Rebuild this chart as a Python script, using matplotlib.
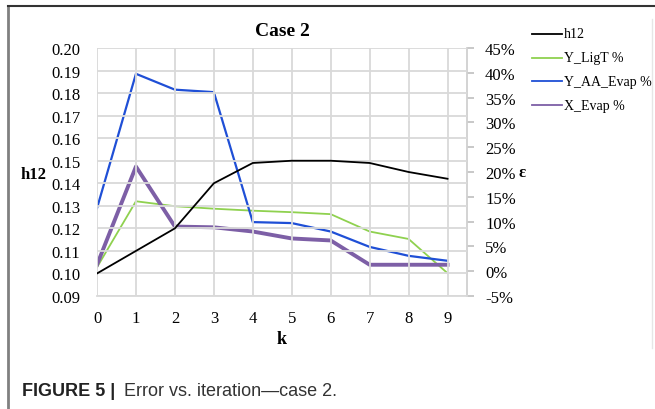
import matplotlib.pyplot as plt
from matplotlib.lines import Line2D

# data
k = [0, 1, 2, 3, 4, 5, 6, 7, 8, 9]
h12 = [0.100, 0.110, 0.120, 0.140, 0.149, 0.150, 0.150, 0.149, 0.145, 0.142]
y_ligt = [0.8, 14.1, 13.1, 12.6, 12.2, 11.9, 11.5, 8.0, 6.5, -0.4]
y_aa_evap = [12.7, 39.8, 36.6, 36.1, 9.9, 9.7, 8.0, 4.9, 3.1, 2.1]
x_evap = [1.3, 21.1, 9.0, 8.85, 8.0, 6.6, 6.2, 1.3, 1.3, 1.3]

left_ticks = [0.09, 0.10, 0.11, 0.12, 0.13, 0.14, 0.15, 0.16, 0.17, 0.18, 0.19, 0.20]
right_ticks = [-5, 0, 5, 10, 15, 20, 25, 30, 35, 40, 45]

names = ['h12', 'Y_LigT %', 'Y_AA_Evap %', 'X_Evap %']
colors = ['#000000', '#8fd14f', '#1f4fd6', '#7d5fa6']

W, H = 655, 410
serif = 'Liberation Serif'
grid_c = '#d9d9d9'

fig = plt.figure(figsize=(W / 100, H / 100), dpi=100)

ax = fig.add_axes([97 / W, 1 - 297 / H, (467 - 97) / W, (297 - 49) / H])
ax.set_xlim(0, 9.5)
ax.set_ylim(0.09, 0.20)
ax.set_yticks(left_ticks)
ax.set_yticklabels(['%.2f' % v for v in left_ticks], family=serif, fontsize=12)
ax.set_xticks(k)
ax.set_xticklabels([str(v) for v in k], family=serif, fontsize=12)
ax.tick_params(axis='y', length=0, pad=12)
ax.tick_params(axis='x', length=0, pad=10)
ax.grid(True, color=grid_c, linewidth=1.3)
ax.set_axisbelow(True)
for s in ax.spines.values():
    s.set_visible(False)
ax.spines['bottom'].set_visible(True)
ax.spines['bottom'].set_color(grid_c)
ax.spines['bottom'].set_linewidth(1.3)

ax2 = ax.twinx()
ax2.set_ylim(-5, 45)
ax2.set_yticks(right_ticks)
ax2.set_yticklabels(['%d%%' % v for v in right_ticks], family=serif, fontsize=12)
ax2.tick_params(axis='y', length=5, color='#bfbfbf', width=1.2, pad=8)
for s in ax2.spines.values():
    s.set_visible(False)
ax2.spines['right'].set_visible(True)
ax2.spines['right'].set_color('#d0d0d0')
ax2.spines['right'].set_linewidth(1.3)

ax.plot(k, h12, color=colors[0], linewidth=1.3, zorder=5)
ax2.plot(k, y_ligt, color=colors[1], linewidth=1.3)
ax2.plot(k, y_aa_evap, color=colors[2], linewidth=1.6)
ax2.plot(k, x_evap, color=colors[3], linewidth=2.8)
ax.set_zorder(ax2.get_zorder() + 1)
ax.patch.set_visible(False)

# titles and axis labels
fig.text(282 / W, 1 - 31 / H, 'Case 2', family=serif, fontsize=14,
         fontweight='bold', ha='center', va='center')
fig.text(34 / W, 1 - 175 / H, 'h12', family=serif, fontsize=12,
         fontweight='bold', ha='center', va='center')
fig.text(522 / W, 1 - 173 / H, 'ε', family=serif, fontsize=12,
         fontweight='bold', ha='center', va='center')
fig.text(282 / W, 1 - 340 / H, 'k', family=serif, fontsize=13,
         fontweight='bold', ha='center', va='center')

# legend
for i, (name, c) in enumerate(zip(names, colors)):
    yy = 1 - (35 + i * 23.7) / H
    fig.add_artist(Line2D([532 / W, 562 / W], [yy, yy], color=c, linewidth=1.3))
    fig.text(564 / W, yy, name, family=serif, fontsize=10, ha='left', va='center')

# frame lines
fig.add_artist(Line2D([7.5 / W, 7.5 / W], [0, 1 - 7 / H], color='#808080', linewidth=2))
fig.add_artist(Line2D([7.5 / W, 1], [1 - 7 / H, 1 - 7 / H], color='#333333', linewidth=1.5))
fig.add_artist(Line2D([652 / W, 652 / W], [1 - 20 / H, 1 - 349 / H], color='#e6e6e6', linewidth=1))

# caption
fig.text(22 / W, 1 - 392 / H, 'FIGURE 5 | ', family='Liberation Sans', fontsize=13,
         fontweight='bold', ha='left', va='center', color='#222222')
fig.text(124 / W, 1 - 392 / H, 'Error vs. iteration\u2014case 2.', family='Liberation Sans',
         fontsize=13, ha='left', va='center', color='#333333')

fig.savefig('out.png', dpi=100)
